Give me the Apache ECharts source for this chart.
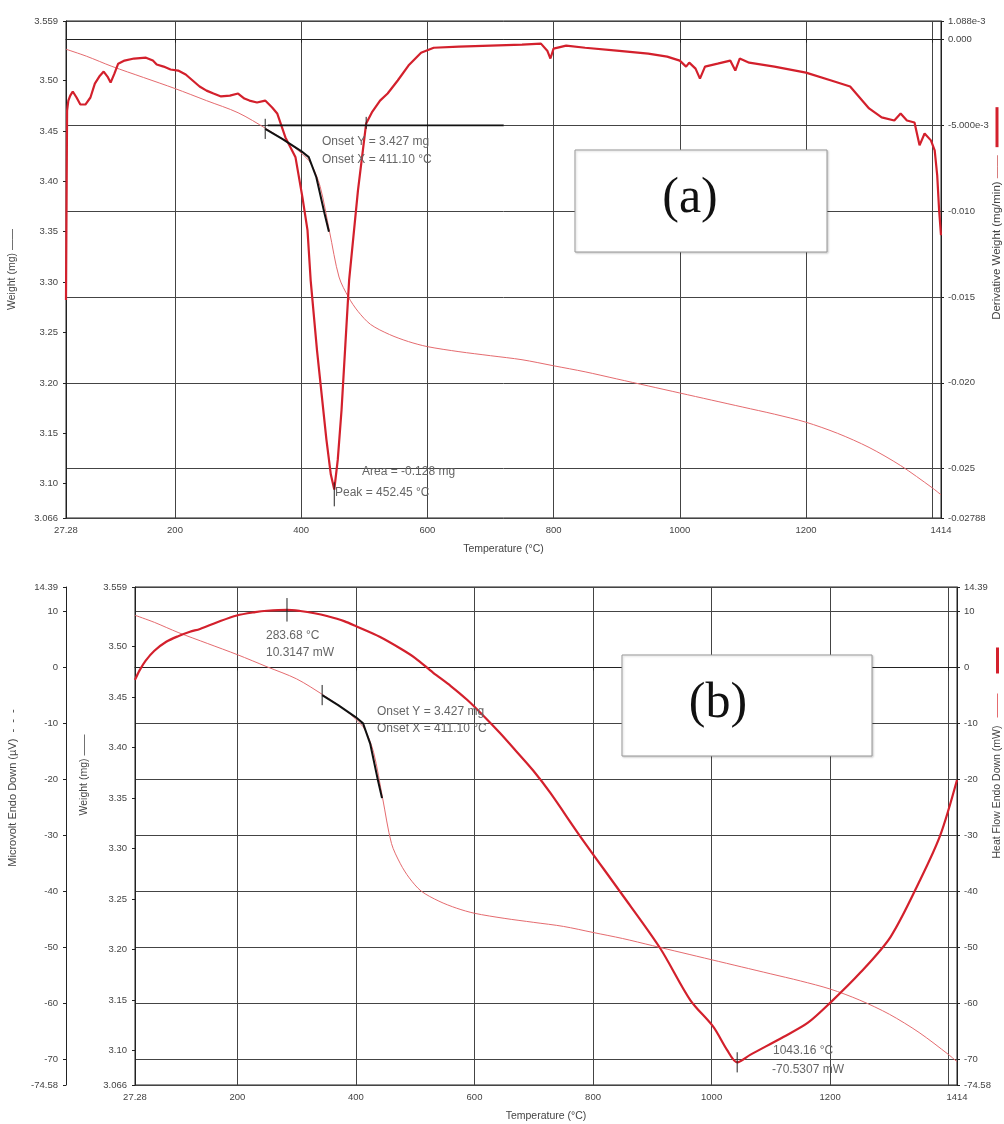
<!DOCTYPE html>
<html>
<head>
<meta charset="utf-8">
<script src="https://cdn.jsdelivr.net/npm/echarts@6/dist/echarts.min.js"></script>
<style>
  html, body { margin: 0; padding: 0; background: #fff; }
  #chart { width: 1004px; height: 1124px; }
</style>
</head>
<body>
<div id="chart"></div>
<script>
// ---- axis ticks and labels ----
const tempTicks = [27.28, 200, 400, 600, 800, 1000, 1200, 1414];
const tempTickLabels = ['27.28', '200', '400', '600', '800', '1000', '1200', '1414'];
const tempGridValues = [27.28, 200, 400, 600, 800, 1000, 1200, 1400, 1414];

const weightTicks = [3.066, 3.10, 3.15, 3.20, 3.25, 3.30, 3.35, 3.40, 3.45, 3.50, 3.559];
const weightTickLabels = ['3.066', '3.10', '3.15', '3.20', '3.25', '3.30', '3.35', '3.40', '3.45', '3.50', '3.559'];

const derivTicks = [-0.02788, -0.025, -0.020, -0.015, -0.010, -0.005, 0, 0.001088];
const derivTickLabels = ['-0.02788', '-0.025', '-0.020', '-0.015', '-0.010', '-5.000e-3', '0.000', '1.088e-3'];

const heatTicks = [-74.58, -70, -60, -50, -40, -30, -20, -10, 0, 10, 14.39];
const heatTickLabels = ['-74.58', '-70', '-60', '-50', '-40', '-30', '-20', '-10', '0', '10', '14.39'];

// ---- TGA weight (mg) vs temperature (°C) ----
const weightTemp = [27.28, 60, 100, 150, 200, 250, 300, 345, 380, 400, 415, 430, 445, 460, 475, 490, 510, 540, 570, 600,
  650, 700, 750, 800, 850, 900, 950, 1000, 1050, 1100, 1150, 1200, 1250, 1300, 1350, 1400, 1414];
const weightMg = [3.531, 3.524, 3.514, 3.503, 3.492, 3.480, 3.468, 3.452, 3.438, 3.428, 3.418, 3.395, 3.350, 3.305, 3.285, 3.271, 3.258, 3.248, 3.241, 3.236,
  3.231, 3.227, 3.223, 3.217, 3.211, 3.204, 3.197, 3.190, 3.183, 3.176, 3.169, 3.161, 3.150, 3.136, 3.118, 3.096, 3.089];

// ---- derivative weight (mg/min) ----
const derivTemp = [27.28, 29, 31, 34, 38, 44, 50, 58, 66, 73, 80, 87, 93, 98, 104, 110, 120, 135, 154, 165,
  171, 182, 193, 205, 217, 228, 239, 250, 261, 273, 287, 300, 310, 318, 330, 343, 354, 362, 375, 391,
  402, 410, 415, 425, 440, 447, 452.45, 458, 464, 470, 476, 490, 503, 512, 525, 537, 553, 570, 590, 610,
  650, 700, 750, 780, 790, 795, 800, 820, 850, 900, 950, 980, 1000, 1010, 1015, 1025, 1032, 1040, 1060, 1080,
  1088, 1095, 1110, 1150, 1200, 1240, 1270, 1300, 1320, 1340, 1350, 1360, 1372, 1380, 1388, 1398, 1404, 1408, 1411, 1414];
const derivMgMin = [-0.01517, -0.00413, -0.00355, -0.00326, -0.00302, -0.00337, -0.00378, -0.00378, -0.00337, -0.00256,
  -0.00215, -0.00186, -0.00215, -0.00250, -0.00198, -0.00140, -0.00122, -0.00110, -0.00105, -0.00122,
  -0.00145, -0.00157, -0.00174, -0.00180, -0.00203, -0.00238, -0.00273, -0.00297, -0.00314, -0.00331,
  -0.00326, -0.00314, -0.00343, -0.00355, -0.00366, -0.00355, -0.00395, -0.00430, -0.00570, -0.00686,
  -0.00919, -0.01110, -0.01401, -0.01808, -0.02331, -0.02535, -0.02622, -0.02448, -0.02157, -0.01779,
  -0.01401, -0.00878, -0.00488, -0.00424, -0.00355, -0.00314, -0.00238, -0.00151, -0.00076, -0.00047,
  -0.00041, -0.00035, -0.00029, -0.00023, -0.00064, -0.00110, -0.00052, -0.00035, -0.00047, -0.00064,
  -0.00081, -0.00099, -0.00122, -0.00157, -0.00134, -0.00169, -0.00227, -0.00157, -0.00140, -0.00122,
  -0.00180, -0.00110, -0.00134, -0.00157, -0.00192, -0.00238, -0.00273, -0.00401, -0.00453, -0.00471,
  -0.00430, -0.00471, -0.00483, -0.00616, -0.00547, -0.00587, -0.00645, -0.00791, -0.00994, -0.01140];

// ---- DSC heat flow (mW) ----
const heatTemp = [27.28, 35, 45, 60, 80, 100, 120, 137, 166, 199, 230, 250, 283.68, 306, 330, 351, 380, 402, 440, 475,
  500, 530, 560, 588, 615, 643, 670, 699, 728, 778, 846, 913, 964, 1003, 1026, 1043.16, 1065, 1121, 1162, 1200,
  1251, 1302, 1352, 1386, 1414];
const heatMw = [-2.2, -0.5, 1.2, 3.0, 4.6, 5.6, 6.4, 6.9, 8.1, 9.3, 9.9, 10.15, 10.3147, 10.1, 9.7, 9.2, 8.3, 7.3, 5.5, 3.4,
  1.7, -0.9, -3.3, -5.8, -8.6, -11.7, -14.9, -18.4, -22.4, -30.1, -40.1, -50.1, -59.4, -64.2, -68.3, -70.5307, -69.2, -66.0, -63.5, -59.9,
  -54.5, -48.1, -37.9, -29.9, -20.1];

// ---- onset construction on the weight curve ----
const onsetTemp = [343, 370, 400, 412, 424, 437, 444];
const onsetMg = [3.452, 3.442, 3.430, 3.424, 3.404, 3.368, 3.350];
const onsetBaseTemp = [347, 721];
const onsetBaseMg = [3.4555, 3.4555];
const onsetMarkTemp = 343;
const onsetMarkMg = [3.462, 3.442];

// ---- event markers ----
const dtgPeakTemp = 452.45;
const dtgPeakMark = [-0.0258, -0.0272];
const dtgEndTemp = 503;
const dtgEndMark = [-0.0045, -0.0052];
const dscMaxTemp = 283.68;
const dscMaxMw = 10.3147;
const dscMinTemp = 1043.16;
const dscMinMw = -70.5307;

const zip = (xs, ys) => xs.map((x, i) => [x, ys[i]]);
const pickLabel = (ticks, labels) => v => {
  for (let i = 0; i < ticks.length; i++) if (Math.abs(v - ticks[i]) < 1e-9) return labels[i];
  return '';
};

const LABEL_FONT = 'Liberation Sans, Arial, sans-serif';
const tickLabel = { fontFamily: LABEL_FONT, fontSize: 9.5, color: '#444' };
const nameStyle = { fontFamily: LABEL_FONT, fontSize: 10.5, color: '#444' };
const axisLine = { show: true, lineStyle: { color: '#222', width: 1 } };
const gridLine = { show: true, lineStyle: { color: '#444', width: 1, type: 'solid' } };
const BOLD_RED = '#d3202c';
const THIN_RED = '#e56b6f';
const ANNOT_FONT = '12px "Liberation Sans", Arial, sans-serif';

function xAxisFor(gridIndex) {
  return {
    type: 'value', gridIndex, min: 27.28, max: 1414,
    name: 'Temperature (°C)', nameLocation: 'middle', nameGap: 26, nameMoveOverlap: false,
    nameTextStyle: nameStyle,
    axisLine,
    axisTick: { show: true, inside: false, length: 3, customValues: tempGridValues, lineStyle: { color: '#222' } },
    axisLabel: { ...tickLabel, margin: 7, customValues: tempTicks, formatter: pickLabel(tempTicks, tempTickLabels) },
    splitLine: gridLine
  };
}

function annot(x, y, text) {
  return { type: 'text', x, y, z: 22, style: { text, font: ANNOT_FONT, fill: '#666', verticalAlign: 'middle' } };
}

const option = {
  animation: false,
  backgroundColor: '#fff',
  grid: [
    { left: 66, right: 63, top: 21, height: 497, containLabel: false, outerBoundsMode: 'none',
      show: true, borderColor: '#222', borderWidth: 1, backgroundColor: 'transparent' },
    { left: 135, right: 47, top: 587, height: 498, containLabel: false, outerBoundsMode: 'none',
      show: true, borderColor: '#222', borderWidth: 1, backgroundColor: 'transparent' }
  ],
  xAxis: [xAxisFor(0), xAxisFor(1)],
  yAxis: [
    { // TGA weight
      type: 'value', gridIndex: 0, position: 'left', min: 3.066, max: 3.559,
      name: 'Weight (mg) ——', nameLocation: 'middle', nameGap: 48, nameMoveOverlap: false,
      nameTextStyle: nameStyle,
      axisLine, axisTick: { show: true, length: 3, customValues: weightTicks, lineStyle: { color: '#222' } },
      axisLabel: { ...tickLabel, margin: 8, customValues: weightTicks, formatter: pickLabel(weightTicks, weightTickLabels) },
      splitLine: { show: false }
    },
    { // derivative weight
      type: 'value', gridIndex: 0, position: 'right', min: -0.02788, max: 0.001088,
      name: '{t|Derivative Weight (mg/min)}{d| ——}{g| }{r| }',
      nameLocation: 'middle', nameGap: 50, nameMoveOverlap: false,
      nameTextStyle: {
        ...nameStyle, fontSize: 11.5, padding: [0, 0, 0, 112],
        rich: {
          t: { ...nameStyle, fontSize: 11.5 },
          d: { ...nameStyle, fontSize: 11.5, color: '#c55' },
          g: { width: 8 },
          r: { width: 40, height: 3, backgroundColor: BOLD_RED }
        }
      },
      axisLine, axisTick: { show: true, length: 3, customValues: derivTicks, lineStyle: { color: '#222' } },
      axisLabel: { ...tickLabel, margin: 7, customValues: derivTicks, formatter: pickLabel(derivTicks, derivTickLabels) },
      splitLine: gridLine
    },
    { // DSC/TGA weight
      type: 'value', gridIndex: 1, position: 'left', min: 3.066, max: 3.559,
      name: 'Weight (mg) ——', nameLocation: 'middle', nameGap: 45, nameMoveOverlap: false,
      nameTextStyle: { ...nameStyle, padding: [0, 0, 0, 122] },
      axisLine, axisTick: { show: true, length: 3, customValues: weightTicks, lineStyle: { color: '#222' } },
      axisLabel: { ...tickLabel, margin: 8, customValues: weightTicks, formatter: pickLabel(weightTicks, weightTickLabels) },
      splitLine: { show: false }
    },
    { // microvolt signal
      type: 'value', gridIndex: 1, position: 'left', offset: 69, min: -74.58, max: 14.39,
      name: 'Microvolt Endo Down (µV)  -  -  -', nameLocation: 'middle', nameGap: 48, nameMoveOverlap: false,
      nameTextStyle: { ...nameStyle, fontSize: 11, padding: [0, 0, 0, 96] },
      axisLine, axisTick: { show: true, length: 3, customValues: heatTicks, lineStyle: { color: '#222' } },
      axisLabel: { ...tickLabel, margin: 8, customValues: heatTicks, formatter: pickLabel(heatTicks, heatTickLabels) },
      splitLine: { show: false }
    },
    { // heat flow
      type: 'value', gridIndex: 1, position: 'right', min: -74.58, max: 14.39,
      name: '{t|Heat Flow Endo Down (mW)}{g| }{d| }{h| }{r| }',
      nameLocation: 'middle', nameGap: 35, nameMoveOverlap: false,
      nameTextStyle: {
        ...nameStyle, padding: [0, 0, 0, 166],
        rich: {
          t: { ...nameStyle },
          g: { width: 8 },
          d: { width: 24, height: 1, backgroundColor: THIN_RED },
          h: { width: 20 },
          r: { width: 26, height: 3, backgroundColor: BOLD_RED }
        }
      },
      axisLine, axisTick: { show: true, length: 3, customValues: heatTicks, lineStyle: { color: '#222' } },
      axisLabel: { ...tickLabel, margin: 7, customValues: heatTicks, formatter: pickLabel(heatTicks, heatTickLabels) },
      splitLine: gridLine
    }
  ],
  series: [
    // panel (a): TGA / DTG
    { type: 'line', xAxisIndex: 0, yAxisIndex: 0, data: zip(weightTemp, weightMg), smooth: 0.3, showSymbol: false,
      lineStyle: { color: THIN_RED, width: 1 }, z: 3 },
    { type: 'line', xAxisIndex: 0, yAxisIndex: 1, data: zip(derivTemp, derivMgMin), showSymbol: false,
      lineStyle: { color: BOLD_RED, width: 2.2 }, z: 4 },
    { type: 'line', xAxisIndex: 0, yAxisIndex: 0, data: zip(onsetBaseTemp, onsetBaseMg), showSymbol: false,
      lineStyle: { color: '#111', width: 1.6 }, z: 5 },
    { type: 'line', xAxisIndex: 0, yAxisIndex: 0, data: zip(onsetTemp, onsetMg), showSymbol: false,
      lineStyle: { color: '#111', width: 2 }, z: 5 },
    { type: 'line', xAxisIndex: 0, yAxisIndex: 0, data: onsetMarkMg.map(v => [onsetMarkTemp, v]), showSymbol: false,
      lineStyle: { color: '#222', width: 1 }, z: 6 },
    { type: 'line', xAxisIndex: 0, yAxisIndex: 1, data: dtgPeakMark.map(v => [dtgPeakTemp, v]), showSymbol: false,
      lineStyle: { color: '#222', width: 1 }, z: 6 },
    { type: 'line', xAxisIndex: 0, yAxisIndex: 1, data: dtgEndMark.map(v => [dtgEndTemp, v]), showSymbol: false,
      lineStyle: { color: '#222', width: 1 }, z: 6 },
    // panel (b): TGA / DSC
    { type: 'line', xAxisIndex: 1, yAxisIndex: 2, data: zip(weightTemp, weightMg), smooth: 0.3, showSymbol: false,
      lineStyle: { color: THIN_RED, width: 1 }, z: 3 },
    { type: 'line', xAxisIndex: 1, yAxisIndex: 4, data: zip(heatTemp, heatMw), smooth: 0.3, showSymbol: false,
      lineStyle: { color: BOLD_RED, width: 2.2 }, z: 4 },
    { type: 'line', xAxisIndex: 1, yAxisIndex: 2, data: zip(onsetTemp, onsetMg), showSymbol: false,
      lineStyle: { color: '#111', width: 2 }, z: 5 },
    { type: 'line', xAxisIndex: 1, yAxisIndex: 2, data: onsetMarkMg.map(v => [onsetMarkTemp, v]), showSymbol: false,
      lineStyle: { color: '#222', width: 1 }, z: 6 },
    { type: 'line', xAxisIndex: 1, yAxisIndex: 4, data: [[dscMaxTemp, dscMaxMw + 2.1], [dscMaxTemp, dscMaxMw - 2.1]], showSymbol: false,
      lineStyle: { color: '#222', width: 1 }, z: 6 },
    { type: 'line', xAxisIndex: 1, yAxisIndex: 4, data: [[dscMinTemp, dscMinMw + 1.8], [dscMinTemp, dscMinMw - 1.8]], showSymbol: false,
      lineStyle: { color: '#222', width: 1 }, z: 6 }
  ],
  graphic: [
    // panel captions
    { type: 'rect', shape: { x: 575, y: 150, width: 252, height: 102 }, z: 20,
      style: { fill: '#fff', stroke: '#999', lineWidth: 1, shadowColor: 'rgba(0,0,0,0.18)', shadowOffsetX: 1, shadowOffsetY: 1, shadowBlur: 2 } },
    { type: 'text', x: 690, y: 199, z: 21,
      style: { text: '(a)', font: '50px "Liberation Serif", "Times New Roman", serif', fill: '#111', align: 'center', verticalAlign: 'middle' } },
    { type: 'rect', shape: { x: 622, y: 655, width: 250, height: 101 }, z: 20,
      style: { fill: '#fff', stroke: '#999', lineWidth: 1, shadowColor: 'rgba(0,0,0,0.18)', shadowOffsetX: 1, shadowOffsetY: 1, shadowBlur: 2 } },
    { type: 'text', x: 718, y: 704, z: 21,
      style: { text: '(b)', font: '50px "Liberation Serif", "Times New Roman", serif', fill: '#111', align: 'center', verticalAlign: 'middle' } },
    // annotations, panel (a)
    annot(322, 142, 'Onset Y = 3.427 mg'),
    annot(322, 160, 'Onset X = 411.10 °C'),
    annot(362, 472, 'Area = -0.128 mg'),
    annot(335, 493, 'Peak = 452.45 °C'),
    // annotations, panel (b)
    annot(266, 636, '283.68 °C'),
    annot(266, 653, '10.3147 mW'),
    annot(377, 712, 'Onset Y = 3.427 mg'),
    annot(377, 729, 'Onset X = 411.10 °C'),
    annot(773, 1051, '1043.16 °C'),
    annot(772, 1070, '-70.5307 mW')
  ]
};

const chart = echarts.init(document.getElementById('chart'), null, { renderer: 'canvas' });
chart.setOption(option);
</script>
</body>
</html>
